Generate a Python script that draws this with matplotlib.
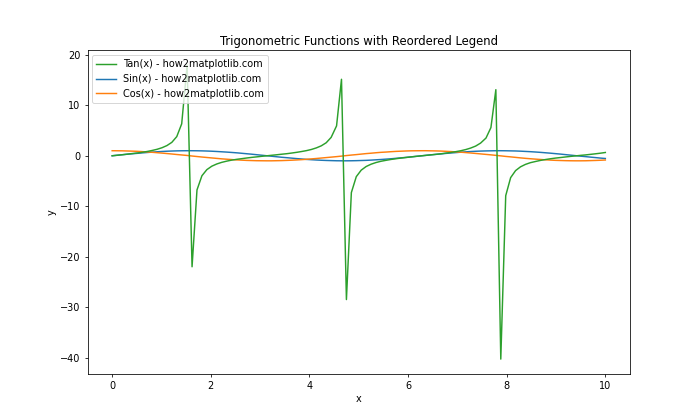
import matplotlib
matplotlib.use("Agg")
import matplotlib.pyplot as plt

# values
x = [0.00, 0.10, 0.20, 0.30, 0.40, 0.51, 0.61, 0.71, 0.81, 0.91,
     1.01, 1.11, 1.21, 1.31, 1.41, 1.52, 1.62, 1.72, 1.82, 1.92,
     2.02, 2.12, 2.22, 2.32, 2.42, 2.53, 2.63, 2.73, 2.83, 2.93,
     3.03, 3.13, 3.23, 3.33, 3.43, 3.54, 3.64, 3.74, 3.84, 3.94,
     4.04, 4.14, 4.24, 4.34, 4.44, 4.55, 4.65, 4.75, 4.85, 4.95,
     5.05, 5.15, 5.25, 5.35, 5.45, 5.56, 5.66, 5.76, 5.86, 5.96,
     6.06, 6.16, 6.26, 6.36, 6.46, 6.57, 6.67, 6.77, 6.87, 6.97,
     7.07, 7.17, 7.27, 7.37, 7.47, 7.58, 7.68, 7.78, 7.88, 7.98,
     8.08, 8.18, 8.28, 8.38, 8.48, 8.59, 8.69, 8.79, 8.89, 8.99,
     9.09, 9.19, 9.29, 9.39, 9.49, 9.60, 9.70, 9.80, 9.90, 10.00]

sin_y = [0.00, 0.10, 0.20, 0.30, 0.39, 0.48, 0.57, 0.65, 0.72, 0.79,
         0.85, 0.90, 0.94, 0.97, 0.99, 1.00, 1.00, 0.99, 0.97, 0.94,
         0.90, 0.85, 0.79, 0.73, 0.66, 0.58, 0.49, 0.40, 0.31, 0.21,
         0.11, 0.01, -0.09, -0.19, -0.29, -0.38, -0.47, -0.56, -0.64, -0.72,
         -0.78, -0.84, -0.89, -0.93, -0.96, -0.99, -1.00, -1.00, -0.99, -0.97,
         -0.94, -0.91, -0.86, -0.80, -0.74, -0.66, -0.59, -0.50, -0.41, -0.32,
         -0.22, -0.12, -0.02, 0.08, 0.18, 0.28, 0.37, 0.47, 0.55, 0.63,
         0.71, 0.78, 0.84, 0.89, 0.93, 0.96, 0.98, 1.00, 1.00, 0.99,
         0.97, 0.95, 0.91, 0.86, 0.81, 0.74, 0.67, 0.59, 0.51, 0.42,
         0.33, 0.23, 0.13, 0.03, -0.07, -0.17, -0.27, -0.36, -0.46, -0.54]

cos_y = [1.00, 0.99, 0.98, 0.95, 0.92, 0.88, 0.82, 0.76, 0.69, 0.61,
         0.53, 0.44, 0.35, 0.25, 0.16, 0.06, -0.05, -0.15, -0.25, -0.34,
         -0.43, -0.52, -0.61, -0.68, -0.75, -0.82, -0.87, -0.92, -0.95, -0.98,
         -0.99, -1.00, -1.00, -0.98, -0.96, -0.92, -0.88, -0.83, -0.77, -0.70,
         -0.62, -0.54, -0.45, -0.36, -0.27, -0.17, -0.07, 0.04, 0.14, 0.23,
         0.33, 0.43, 0.51, 0.60, 0.68, 0.74, 0.81, 0.87, 0.91, 0.95,
         0.98, 0.99, 1.00, 1.00, 0.98, 0.96, 0.93, 0.88, 0.83, 0.77,
         0.71, 0.63, 0.55, 0.46, 0.37, 0.27, 0.18, 0.08, -0.02, -0.13,
         -0.22, -0.32, -0.42, -0.51, -0.59, -0.67, -0.74, -0.80, -0.86, -0.91,
         -0.94, -0.97, -0.99, -1.00, -1.00, -0.99, -0.96, -0.93, -0.89, -0.84]

tan_y = [0.00, 0.10, 0.20, 0.31, 0.43, 0.55, 0.69, 0.85, 1.05, 1.28,
         1.59, 2.02, 2.66, 3.80, 6.33, 17.97, -22.0, -6.77, -3.96, -2.75,
         -2.07, -1.63, -1.31, -1.07, -0.87, -0.70, -0.57, -0.44, -0.32, -0.22,
         -0.11, -0.01, 0.09, 0.19, 0.30, 0.41, 0.54, 0.68, 0.84, 1.02,
         1.25, 1.56, 1.97, 2.58, 3.64, 5.92, 15.16, -28.5, -7.30, -4.14,
         -2.85, -2.13, -1.67, -1.34, -1.09, -0.89, -0.72, -0.58, -0.45, -0.34,
         -0.23, -0.12, -0.02, 0.08, 0.18, 0.29, 0.40, 0.53, 0.66, 0.82,
         1.00, 1.23, 1.53, 1.92, 2.51, 3.51, 5.59, 13.1, -40.3, -7.91,
         -4.33, -2.94, -2.19, -1.71, -1.37, -1.12, -0.91, -0.74, -0.59, -0.46,
         -0.35, -0.24, -0.13, -0.03, 0.07, 0.17, 0.28, 0.39, 0.51, 0.65]

fig, ax = plt.subplots(figsize=(10, 6), dpi=70)

l_sin, = ax.plot(x, sin_y, label='Sin(x) - how2matplotlib.com')
l_cos, = ax.plot(x, cos_y, label='Cos(x) - how2matplotlib.com')
l_tan, = ax.plot(x, tan_y, label='Tan(x) - how2matplotlib.com')

# legend in a different order than plotting
handles = [l_tan, l_sin, l_cos]
ax.legend(handles, [h.get_label() for h in handles], loc='upper left')

ax.set_title('Trigonometric Functions with Reordered Legend')
ax.set_xlabel('x')
ax.set_ylabel('y')

plt.savefig('out.png', dpi=70)
